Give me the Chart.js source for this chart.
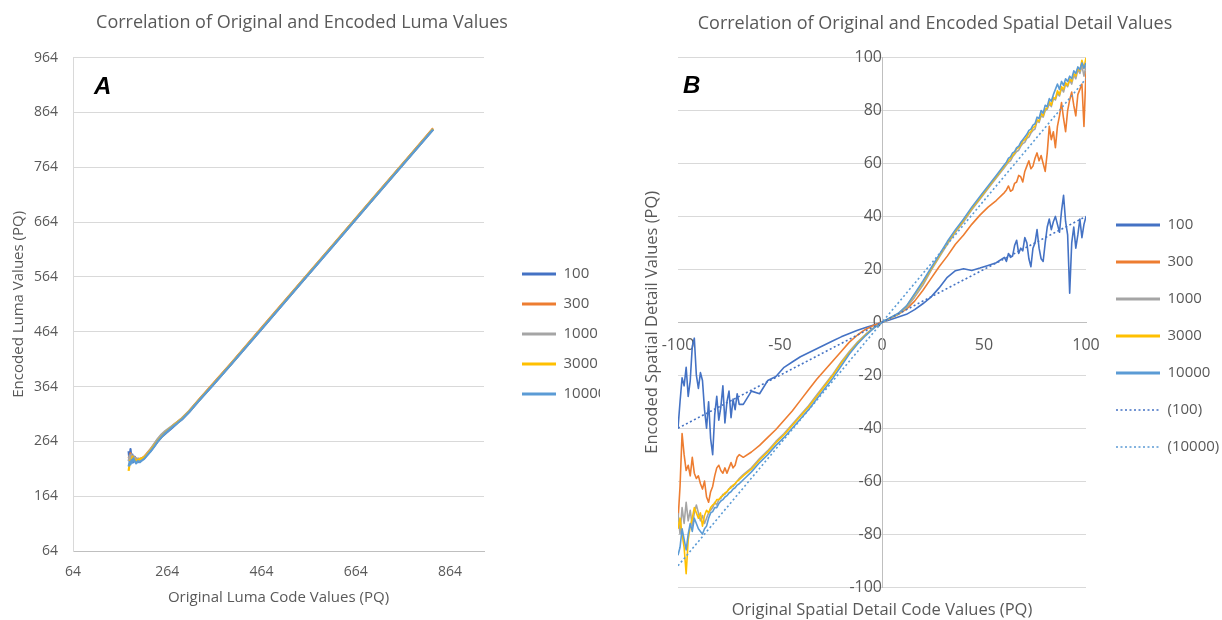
<!DOCTYPE html>
<html>
<head>
<meta charset="utf-8">
<script src="https://cdn.jsdelivr.net/npm/chart.js@4.4.1/dist/chart.umd.min.js"></script>
<style>
  body { margin: 0; background: #fff; }
  #wrap { position: relative; width: 1222px; height: 620px; }
  canvas { position: absolute; top: 0; }
  .tag { position: absolute; font: italic bold 24px "Liberation Sans", Arial, sans-serif; color: #000; }
</style>
</head>
<body>
<div id="wrap">
  <canvas id="lumaChart" width="600" height="620" style="left:0"></canvas>
  <canvas id="detailChart" width="622" height="620" style="left:600px"></canvas>
  <div class="tag" style="left:94px;top:72px">A</div>
  <div class="tag" style="left:683px;top:71px">B</div>
</div>
<script>
// series names
var seriesNames = ['100', '300', '1000', '3000', '10000'];
var trendNames = ['(100)', '(10000)'];
var colors = ['#4472C4', '#ED7D31', '#A5A5A5', '#FFC000', '#5B9BD5'];

// Panel A: original vs encoded luma
var lumaTicksX = [64, 264, 464, 664, 864];
var lumaTicksY = [64, 164, 264, 364, 464, 564, 664, 764, 864, 964];
var lumaX = [182, 184, 186, 188, 190, 192, 195, 198, 202, 206, 210, 215, 220, 228, 236, 244, 252, 260, 268, 276, 285, 295, 310, 330, 360, 400, 460, 540, 620, 700, 780, 828];
var luma100 = [246, 228, 250, 232, 240, 226, 236, 230, 226, 229, 231, 233, 238, 246, 255, 264, 272, 278, 284, 290, 297, 304, 317, 337, 366, 405, 465, 545, 625, 705, 785, 833];
var luma300 = [236, 231, 242, 234, 228, 236, 230, 233, 231, 232, 233, 236, 241, 249, 258, 267, 275, 281, 287, 293, 299, 306, 319, 339, 368, 407, 467, 547, 627, 707, 787, 835];
var luma1000 = [228, 238, 232, 240, 233, 231, 235, 229, 233, 230, 232, 235, 240, 249, 259, 269, 277, 283, 288, 293, 299, 306, 319, 338, 367, 406, 466, 546, 626, 706, 786, 834];
var luma3000 = [210, 222, 230, 226, 236, 230, 232, 228, 230, 232, 233, 235, 239, 247, 256, 265, 273, 280, 286, 292, 298, 305, 318, 338, 367, 406, 466, 546, 626, 706, 786, 834];
var luma10000 = [218, 226, 222, 230, 225, 233, 228, 224, 228, 226, 229, 232, 237, 245, 254, 264, 272, 279, 285, 291, 297, 304, 317, 337, 366, 405, 465, 545, 625, 705, 785, 833];

// Panel B: original vs encoded spatial detail
var detailX = [-100, -99, -98, -97, -96, -95, -94, -93, -92, -91, -90, -89, -88, -87, -86, -85, -84, -83, -82, -81, -80, -79, -78, -77, -76, -75, -74, -73, -72, -71, -70,
  -68, -64, -60, -56, -52, -48, -44, -40, -36, -32, -28, -24, -20, -16, -12, -8, -4, 0, 4, 8, 12, 16, 20, 24, 28, 32, 36, 40, 44, 48, 52, 56, 60,
  61, 62, 63, 64, 65, 66, 67, 68, 69, 70, 71, 72, 73, 74, 75, 76, 77, 78, 79, 80, 81, 82, 83, 84, 85, 86, 87, 88, 89, 90, 91, 92, 93, 94, 95, 96, 97, 98, 99, 100];
var detail100 = [-40, -30, -21, -24, -17, -28, -22, -9, -6, -20, -25, -19, -22, -33, -40, -30, -44, -50, -35, -28, -37, -32, -24, -38, -30, -26, -36, -29, -33, -27, -31,
  -31, -26, -27, -22, -20.5, -17, -15, -13, -11.5, -10, -8.5, -7, -5.5, -4.2, -3, -2, -1, 0, 1, 2, 3, 4.8, 7, 9.5, 13, 17, 19.5, 20.2, 19.6, 20.5, 21.5, 22.5, 24.5,
  23, 26, 24.5, 25, 29, 31, 26, 28, 27, 32, 30, 24, 21, 28, 30, 35, 28, 24, 23, 30, 36, 39, 35, 38, 40, 37, 34, 42, 48, 38, 33, 11, 30, 36, 28, 33, 39, 32, 37, 40];
var detail300 = [-75, -62, -42, -50, -56, -54, -58, -51, -57, -59, -58, -61, -63, -60, -66, -68, -64, -62, -58, -55, -54, -56, -57, -55, -57, -55, -53, -55, -54, -51, -50,
  -51, -49, -46.5, -43.5, -40.5, -37, -33.5, -29.5, -25.5, -21.5, -18, -14.5, -11, -7.5, -4.8, -2.6, -1.1, 0, 1.5, 3, 5, 8, 12, 16.5, 21, 25, 29.5, 33, 37, 40.5, 43.5, 46, 49,
  50, 51.5, 49.5, 50, 52.5, 53, 55.5, 55, 53, 57, 59, 61, 58, 59, 62, 64, 61, 63, 60, 57, 64, 74, 69, 72, 66, 74, 78, 83, 77, 72, 80, 84, 87, 82, 78, 86, 88, 90, 74, 95];
var detail1000 = [-72, -80, -70, -76, -68, -75, -71, -77, -72, -69, -72, -75, -73, -76, -74, -72, -71, -70, -68, -69, -67, -66.5, -65, -65, -64, -63, -62, -62, -61, -60, -59,
  -57.5, -55, -51.5, -48.5, -45, -42, -38.5, -35, -31.5, -27.5, -23.5, -19.5, -15, -11, -7.5, -4.5, -2, 0, 1.5, 3, 5.5, 9.5, 14, 19.5, 24.5, 29.5, 34, 38, 42.5, 46.5, 50.5, 54.5, 58.5,
  59.5, 60.5, 61, 62.5, 63.5, 64.5, 65, 66.5, 67.5, 68, 69.5, 70, 71.5, 72.5, 73, 76, 75.5, 78, 77.5, 80, 80.5, 82.5, 81.5, 84.5, 84, 86.5, 85.5, 88.5, 87, 90, 89, 91.5, 90, 93.5, 92, 95.5, 94, 97, 93, 97];
var detail3000 = [-78, -74, -80, -85, -95, -82, -77, -74, -70, -72, -74, -72, -77, -73, -71, -72, -70, -69, -68.5, -67, -67, -66, -65.5, -64.5, -64, -63, -62.5, -61.5, -61, -60, -59.5,
  -58, -55.5, -52, -49, -45.5, -42.5, -39, -35.5, -32, -28, -24, -20, -15.5, -11.5, -7.8, -4.7, -2.1, 0, 1.6, 3.2, 6, 10.5, 15, 20, 25, 30, 34.5, 38.5, 43, 47, 51, 55, 59,
  60, 61, 62, 63, 64, 65.5, 66, 67, 68.5, 69, 70, 71.5, 72, 73.5, 74, 76.5, 76, 79, 78, 80.5, 81, 83.5, 82, 85, 84.5, 87.5, 86, 89, 88, 90.5, 89.5, 92, 91, 94, 93, 96, 95, 99, 96, 100];
var detail10000 = [-88, -85, -78, -82, -86, -80, -76, -79, -74, -76, -78, -79, -80, -78, -77, -74, -72, -71.5, -70, -70, -68.5, -67.5, -67, -66, -65.5, -64.5, -64, -63, -62.5, -61.5, -61,
  -59.5, -56.5, -53, -50, -46.5, -43.5, -40, -36.5, -33, -29, -25, -21, -16.5, -12, -8.2, -5, -2.2, 0, 1.7, 3.4, 6.2, 10.8, 15.5, 20.5, 25.5, 30.5, 35, 39, 43.5, 47.5, 51.5, 55.5, 59.5,
  60.5, 62, 62.5, 64, 64.5, 66, 66.5, 68, 69, 70, 71, 72.5, 73, 74.5, 75, 77.5, 77, 80, 79, 82, 81.5, 84.5, 83.5, 86, 88, 90, 88, 91, 89.5, 92, 91, 93, 92, 95, 94, 96.5, 95.5, 98, 96, 98];
var trendX = [-100, 100];
var trend100 = [-40, 40];
var trend10000 = [-92, 92];

Chart.defaults.font.family = '"Open Sans", sans-serif';
Chart.defaults.color = '#595959';

function pts(xs, ys) {
    return xs.map(function (x, i) { return { x: x, y: ys[i] }; });
}

// moves the legend next to the plot and nudges the title
var nudge = {
    id: 'nudge',
    afterLayout: function (chart, args, opts) {
        var l = chart.legend, ca = chart.chartArea;
        if (l) {
            var w = l.width;
            l.left = ca.right + (opts.gap || 0);
            l.right = l.left + w;
            l.top += opts.dy || 0;
            l.bottom += opts.dy || 0;
        }
        var t = chart.titleBlock;
        if (t && opts.titleDx) {
            t.left += opts.titleDx;
            t.right += opts.titleDx;
        }
    }
};

// legend line samples: take the dash from the dataset, thicker solid lines
function legendLabels(chart) {
    return Chart.defaults.plugins.legend.labels.generateLabels(chart).map(function (item) {
        var dash = chart.data.datasets[item.datasetIndex].borderDash || [];
        item.lineDash = dash;
        item.lineWidth = dash.length ? 1.6 : 3;
        return item;
    });
}

function line(label, data, color, width, order, dash) {
    return {
        label: label, data: data, borderColor: color, backgroundColor: color,
        borderWidth: width, borderDash: dash || [], showLine: true, pointRadius: 0,
        fill: false, tension: 0, order: order, borderJoinStyle: 'round'
    };
}

var lumaSets = [luma100, luma300, luma1000, luma3000, luma10000];
new Chart(document.getElementById('lumaChart'), {
    type: 'scatter',
    data: {
        datasets: lumaSets.map(function (ys, i) {
            return line(seriesNames[i], pts(lumaX, ys), colors[i], 2.2, 5 - i);
        })
    },
    plugins: [nudge],
    options: {
        responsive: false,
        animation: false,
        plugins: {
            title: {
                display: true, text: 'Correlation of Original and Encoded Luma Values',
                font: { size: 18, weight: 'normal' }, padding: { top: 12, bottom: 24 }
            },
            legend: {
                position: 'right', maxWidth: 200,
                labels: {
                    usePointStyle: true, pointStyle: 'line', pointStyleWidth: 34,
                    font: { size: 15 }, padding: 15, generateLabels: legendLabels,
                    sort: function (a, b) { return a.datasetIndex - b.datasetIndex; }
                }
            },
            tooltip: { enabled: false },
            nudge: { gap: 23, dy: 24, titleDx: 2 }
        },
        scales: {
            x: {
                type: 'linear', min: 64, max: 936,
                afterBuildTicks: function (s) { s.ticks = lumaTicksX.map(function (v) { return { value: v }; }); },
                grid: { display: false, drawTicks: false },
                border: { color: '#bfbfbf' },
                ticks: { padding: 13, font: { size: 14 } },
                title: { display: true, text: 'Original Luma Code Values (PQ)', font: { size: 15 }, padding: { top: 0, bottom: 13 } },
                afterFit: function (s) { s.height = 69; }
            },
            y: {
                type: 'linear', min: 64, max: 964,
                afterBuildTicks: function (s) { s.ticks = lumaTicksY.map(function (v) { return { value: v }; }); },
                grid: { color: '#d9d9d9', drawTicks: false },
                border: { color: '#d9d9d9' },
                ticks: { padding: 15, font: { size: 14 } },
                title: { display: true, text: 'Encoded Luma Values (PQ)', font: { size: 15 }, padding: { top: 10, bottom: 0 } },
                afterFit: function (s) { s.width = 73; }
            },
            yr: {
                type: 'linear', position: 'right',
                grid: { display: false, drawTicks: false }, border: { display: false },
                ticks: { display: false },
                afterFit: function (s) { s.width = Math.max(0, s.chart.width - 484 - s.chart.legend.width); }
            }
        }
    }
});

var detailSets = [detail100, detail300, detail1000, detail3000, detail10000];
var detailData = detailSets.map(function (ys, i) {
    return line(seriesNames[i], pts(detailX, ys), colors[i], 1.6, 7 - i);
});
detailData.push(line(trendNames[0], pts(trendX, trend100), colors[0], 1.6, 2, [2, 2.5]));
detailData.push(line(trendNames[1], pts(trendX, trend10000), colors[4], 1.6, 1, [2, 2.5]));

new Chart(document.getElementById('detailChart'), {
    type: 'scatter',
    data: { datasets: detailData },
    plugins: [nudge],
    options: {
        responsive: false,
        animation: false,
        plugins: {
            title: {
                display: true, text: 'Correlation of Original and Encoded Spatial Detail Values',
                font: { size: 18, weight: 'normal' }, padding: { top: 13, bottom: 23 }
            },
            legend: {
                position: 'right', maxWidth: 200,
                labels: {
                    usePointStyle: true, pointStyle: 'line', pointStyleWidth: 44,
                    font: { size: 15 }, padding: 22, generateLabels: legendLabels,
                    sort: function (a, b) { return a.datasetIndex - b.datasetIndex; }
                }
            },
            tooltip: { enabled: false },
            nudge: { gap: 8, dy: 26, titleDx: 24 }
        },
        scales: {
            x: {
                type: 'linear', position: { y: 0 }, min: -100, max: 100,
                grid: { display: false, drawTicks: false },
                border: { color: '#bfbfbf' },
                ticks: { stepSize: 50, padding: 14, font: { size: 16 } }
            },
            y: {
                type: 'linear', position: { x: 0 }, min: -100, max: 100,
                grid: { color: '#d9d9d9', drawTicks: false },
                border: { color: '#bfbfbf' },
                ticks: { stepSize: 20, padding: 18, font: { size: 16 } }
            },
            xt: {
                type: 'linear', position: 'bottom',
                grid: { display: false, drawTicks: false }, border: { display: false },
                ticks: { display: false },
                title: { display: true, text: 'Original Spatial Detail Code Values (PQ)', font: { size: 16.5 }, padding: 0 },
                afterFit: function (s) { s.height = 33; }
            },
            yt: {
                type: 'linear', position: 'left',
                grid: { display: false, drawTicks: false }, border: { display: false },
                ticks: { display: false },
                title: { display: true, text: 'Encoded Spatial Detail Values (PQ)', font: { size: 16.5 }, padding: { top: 42, bottom: 0 } },
                afterFit: function (s) { s.width = 78; }
            },
            yr: {
                type: 'linear', position: 'right',
                grid: { display: false, drawTicks: false }, border: { display: false },
                ticks: { display: false },
                afterFit: function (s) { s.width = Math.max(0, s.chart.width - 486 - s.chart.legend.width); }
            }
        }
    }
});
</script>
</body>
</html>
